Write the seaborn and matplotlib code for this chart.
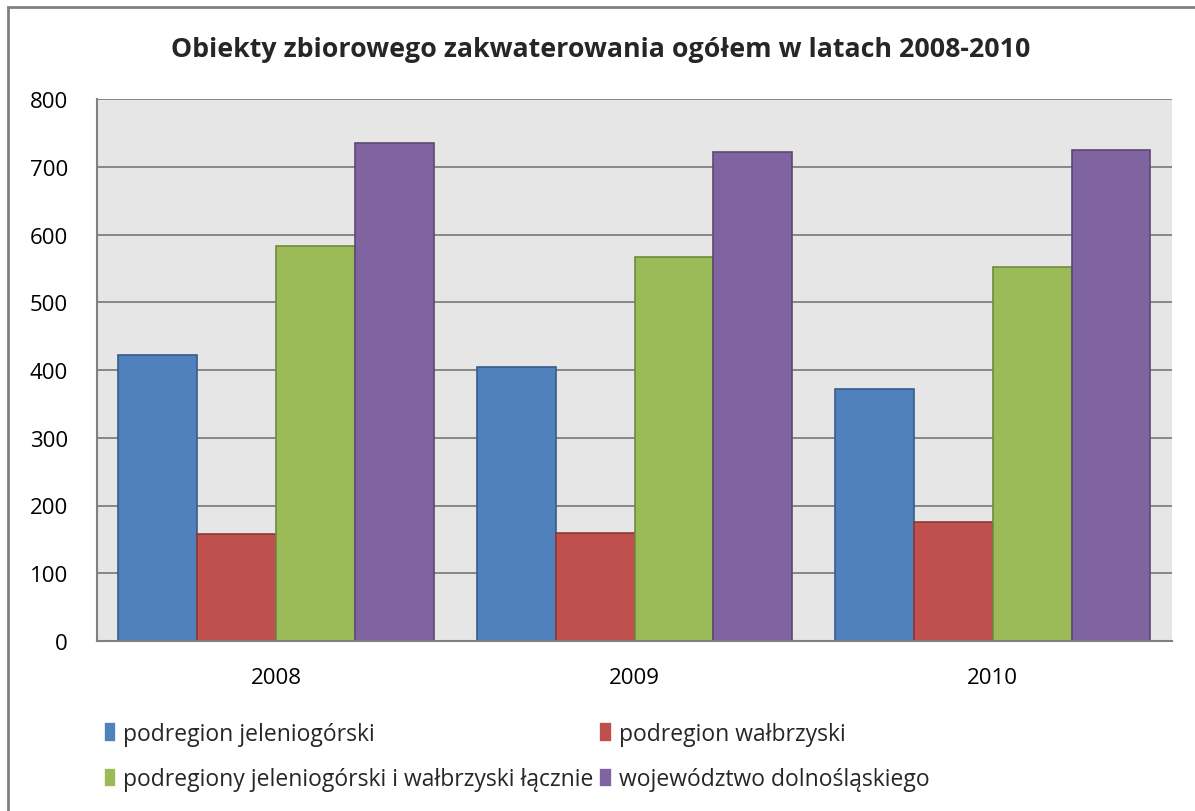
import matplotlib.pyplot as plt
import matplotlib.patches as mpatches
import seaborn as sns
import pandas as pd

# data
years = ['2008', '2009', '2010']
series = ['podregion jeleniogórski', 'podregion wałbrzyski',
          'podregiony jeleniogórski i wałbrzyski łącznie', 'województwo dolnośląskiego']
jeleniogorski = [422, 404, 372]
walbrzyski = [158, 159, 176]
lacznie = [583, 567, 552]
wojewodztwo = [735, 722, 725]

colors = ['#4F81BD', '#C0504D', '#9BBB59', '#8064A2']
edges = ['#385D8A', '#8C3836', '#71893F', '#5C4776']

rows = []
for name, vals in zip(series, [jeleniogorski, walbrzyski, lacznie, wojewodztwo]):
    for y, v in zip(years, vals):
        rows.append({'rok': y, 'liczba': v, 'seria': name})
df = pd.DataFrame(rows)

sns.set_style('white')
plt.rcParams['font.family'] = ['Open Sans', 'DejaVu Sans']

fig = plt.figure(figsize=(11.95, 8.12), dpi=100)
ax = fig.add_axes([97 / 1195, 170 / 812, 1075 / 1195, 542 / 812])
ax.set_facecolor('#E6E6E6')

sns.barplot(data=df, x='rok', y='liczba', hue='seria', hue_order=series,
            palette=colors, saturation=1, width=0.88, ax=ax, legend=True,
            linewidth=1.2)
for cont, ec in zip(ax.containers, edges):
    for bar in cont:
        bar.set_edgecolor(ec)

ax.set_ylim(0, 800)
ax.set_yticks(range(0, 801, 100))
ax.yaxis.grid(True, color='#808080', linewidth=1.3)
ax.set_axisbelow(True)
ax.set_xlabel('')
ax.set_ylabel('')
for s in ['top', 'right']:
    ax.spines[s].set_visible(False)
for s in ['left', 'bottom']:
    ax.spines[s].set_color('#808080')
    ax.spines[s].set_linewidth(1.5)
ax.tick_params(axis='both', length=0, labelsize=16, colors='black')
ax.tick_params(axis='y', pad=21)
ax.tick_params(axis='x', pad=19)

fig.suptitle('Obiekty zbiorowego zakwaterowania ogółem w latach 2008-2010',
             x=0.503, y=0.954, fontsize=19.3, fontweight='bold')

handles, labels = ax.get_legend_handles_labels()
ax.get_legend().remove()
order = [0, 2, 1, 3]
fig.legend([handles[i] for i in order], [labels[i] for i in order],
           loc='upper left', bbox_to_anchor=(83 / 1195, 1 - 702 / 812),
           ncol=2, frameon=False, fontsize=16.5, handlelength=0.55, handleheight=0.95,
           handletextpad=0.3, columnspacing=0.25, labelspacing=0.95)

# outer chart frame
fig.patches.append(mpatches.Rectangle((8 / 1195, -0.05), 1.1, 1 - 8 / 812 + 0.05,
                                      transform=fig.transFigure, fill=False,
                                      edgecolor='#808080', linewidth=2))

fig.savefig('out.png', dpi=100)
